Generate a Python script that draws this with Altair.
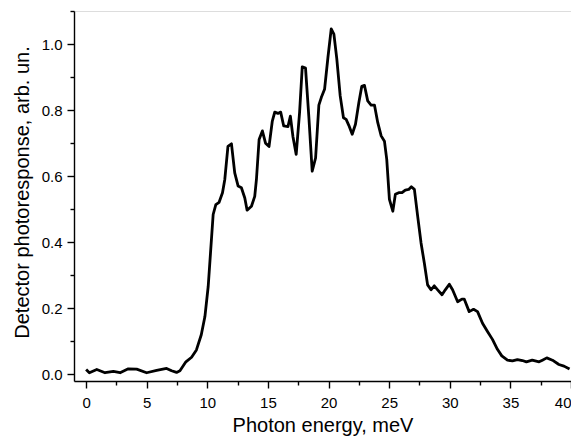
import altair as alt
import pandas as pd

energy = [0.0, 0.27, 0.88, 1.56, 2.25, 2.8, 3.48, 4.17, 4.99, 5.82, 6.64, 7.05, 7.46, 7.74,
          8.23, 8.7, 9.1, 9.5, 9.8, 10.07, 10.26, 10.48, 10.7, 10.97, 11.25, 11.44,
          11.7, 11.99, 12.26, 12.54, 12.81, 13.09, 13.28, 13.64, 13.91, 14.05, 14.27, 14.54,
          14.8, 15.09, 15.36, 15.56, 15.83, 16.05, 16.3, 16.65, 16.85, 17.06, 17.33, 17.61,
          17.83, 18.1, 18.37, 18.65, 18.93, 19.2, 19.4, 19.67, 19.95, 20.22, 20.44, 20.68,
          20.96, 21.23, 21.45, 21.67, 21.95, 22.22, 22.5, 22.74, 22.96, 23.23, 23.51, 23.79,
          24.06, 24.34, 24.61, 24.8, 25.02, 25.3, 25.51, 25.79, 26.06, 26.33, 26.61, 26.83,
          27.08, 27.35, 27.63, 27.9, 28.17, 28.45, 28.72, 29.0, 29.36, 29.63, 29.96, 30.23,
          30.65, 31.0, 31.19, 31.6, 31.96, 32.29, 32.7, 33.11, 33.52, 33.93, 34.29, 34.76,
          35.17, 35.58, 35.99, 36.32, 36.8, 37.37, 37.64, 38.0, 38.47, 39.0, 39.42, 39.88]
response = [0.015, 0.005, 0.015, 0.005, 0.009, 0.005, 0.017, 0.016, 0.005, 0.012, 0.018, 0.011, 0.006, 0.011,
            0.038, 0.052, 0.074, 0.12, 0.175, 0.266, 0.367, 0.484, 0.514, 0.521, 0.55, 0.59,
            0.69, 0.698, 0.61, 0.57, 0.565, 0.534, 0.497, 0.509, 0.539, 0.59, 0.711, 0.737,
            0.70, 0.69, 0.767, 0.794, 0.79, 0.794, 0.752, 0.75, 0.782, 0.72, 0.666, 0.793,
            0.931, 0.927, 0.782, 0.615, 0.655, 0.815, 0.838, 0.863, 0.96, 1.046, 1.03, 0.955,
            0.843, 0.777, 0.772, 0.754, 0.727, 0.757, 0.823, 0.872, 0.875, 0.828, 0.815, 0.815,
            0.762, 0.722, 0.706, 0.651, 0.53, 0.494, 0.545, 0.55, 0.55, 0.558, 0.56, 0.568,
            0.56, 0.479, 0.398, 0.337, 0.271, 0.256, 0.268, 0.256, 0.241, 0.256, 0.273, 0.256,
            0.22, 0.228, 0.228, 0.19, 0.197, 0.19, 0.155, 0.13, 0.106, 0.076, 0.056, 0.043,
            0.041, 0.045, 0.042, 0.038, 0.043, 0.038, 0.043, 0.05, 0.043, 0.03, 0.025, 0.016]

x_major = [0, 5, 10, 15, 20, 25, 30, 35, 40]
x_minor = [2.5, 7.5, 12.5, 17.5, 22.5, 27.5, 32.5, 37.5]
y_major = [0.0, 0.2, 0.4, 0.6, 0.8, 1.0]
y_minor = [0.1, 0.3, 0.5, 0.7, 0.9, 1.1]

df = pd.DataFrame({"energy": energy, "response": response})
FONT = "Liberation Sans"

xscale = alt.Scale(domain=[-1, 40], nice=False, zero=False)
yscale = alt.Scale(domain=[-0.02, 1.1], nice=False, zero=False)

main = alt.Chart(df).mark_line(color="black", strokeWidth=2.8, strokeJoin="round").encode(
    x=alt.X("energy:Q", scale=xscale,
            axis=alt.Axis(values=x_major, title="Photon energy, meV", orient="bottom",
                          tickSize=7, tickWidth=1.4, tickColor="black", domainColor="black",
                          domainWidth=1.4, labelFontSize=15, labelColor="black", labelFont=FONT,
                          titleFont=FONT, titleFontSize=20, titleFontWeight="normal",
                          titleColor="black", titlePadding=5, labelPadding=7, grid=False)),
    y=alt.Y("response:Q", scale=yscale,
            axis=alt.Axis(values=y_major, format=".1f", title="Detector photoresponse, arb. un.",
                          orient="left", tickSize=7, tickWidth=1.4, tickColor="black",
                          domainColor="black", domainWidth=1.4, labelFontSize=15,
                          labelColor="black", labelFont=FONT, titleFont=FONT, titleFontSize=20,
                          titleFontWeight="normal", titleColor="black", titlePadding=9,
                          titleY=181, labelPadding=5, grid=False)),
)

minor = alt.Chart(df).mark_line(opacity=0).encode(
    x=alt.X("energy:Q", scale=xscale,
            axis=alt.Axis(values=x_minor, labels=False, title=None, orient="bottom",
                          tickSize=4, tickWidth=1.4, tickColor="black", domain=False, grid=False)),
    y=alt.Y("response:Q", scale=yscale,
            axis=alt.Axis(values=y_minor, labels=False, title=None, orient="left",
                          tickSize=4, tickWidth=1.4, tickColor="black", domain=False, grid=False)),
)

chart = alt.layer(main, minor).resolve_axis(x="independent", y="independent").properties(
    width=497, height=370,
    autosize=alt.AutoSizeParams(type="none"),
    padding={"left": 66, "top": 3, "right": 0, "bottom": 55},
).configure_view(stroke=None).configure(background="white")

chart.save("out.html", embed_options={"renderer": "svg", "actions": False})
